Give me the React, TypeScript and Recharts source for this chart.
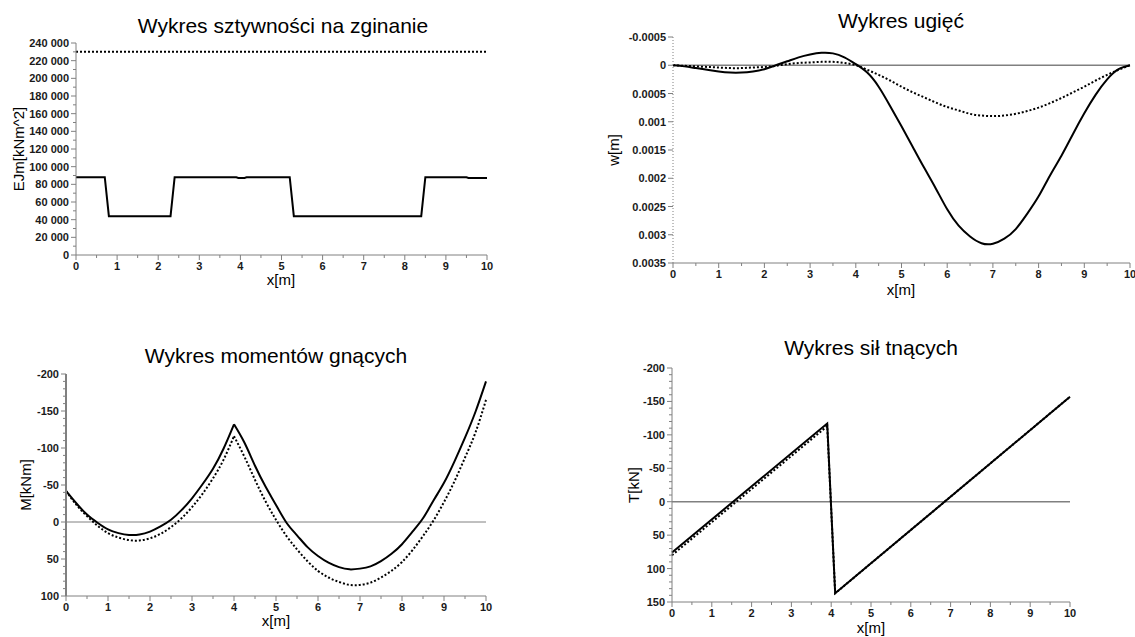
import React from "react";
import { LineChart, Line, XAxis, YAxis, ReferenceLine } from "recharts";

const FONT = '"Liberation Sans", Arial, Helvetica, sans-serif';
const AXIS = "#808080";

// shared x axis ticks (beam length, m)
const X_TICKS = [0, 0.5, 1, 1.5, 2, 2.5, 3, 3.5, 4, 4.5, 5, 5.5, 6, 6.5, 7, 7.5, 8, 8.5, 9, 9.5, 10];
const X_MAJOR = [0, 1, 2, 3, 4, 5, 6, 7, 8, 9, 10];

// 1. sztywność na zginanie
const EJ_X = [0, 0.7, 0.8, 2.3, 2.4, 3.9, 3.95, 4.1, 4.15, 5.2, 5.3, 8.4, 8.5, 9.5, 9.55, 10];
const EJ_VALUES = [88000, 88000, 44000, 44000, 88000, 88000, 87300, 87300, 88000, 88000, 44000, 44000, 88000, 88000, 87300, 87300];
const EJ_REF_X = [0, 10];
const EJ_REF_VALUES = [230000, 230000];
const EJ_TICKS = [0, 10000, 20000, 30000, 40000, 50000, 60000, 70000, 80000, 90000, 100000, 110000, 120000, 130000, 140000, 150000, 160000, 170000, 180000, 190000, 200000, 210000, 220000, 230000, 240000];
const EJ_MAJOR = [0, 20000, 40000, 60000, 80000, 100000, 120000, 140000, 160000, 180000, 200000, 220000, 240000];

// 2. ugięcia
const W_X = [0, 0.25, 0.5, 0.75, 1, 1.25, 1.5, 1.75, 2, 2.25, 2.5, 2.75, 3, 3.25, 3.5, 3.75, 4, 4.25, 4.5, 4.75, 5, 5.25, 5.5, 5.75, 6, 6.25, 6.5, 6.75, 7, 7.25, 7.5, 7.75, 8, 8.25, 8.5, 8.75, 9, 9.25, 9.5, 9.75, 10];
const W_SOLID = [0, 0.00002, 0.00005, 0.00008, 0.00011, 0.00013, 0.00013, 0.00011, 0.00007, 0, -0.00007, -0.00014, -0.00019, -0.00022, -0.00021, -0.00014, -0.00002, 0.00013, 0.00038, 0.00072, 0.00108, 0.00145, 0.00182, 0.00218, 0.00255, 0.00284, 0.00303, 0.00315, 0.00316, 0.00307, 0.0029, 0.00263, 0.00232, 0.00195, 0.0016, 0.00122, 0.00085, 0.00052, 0.00025, 0.00007, 0];
const W_DOTTED = [0, 0.00001, 0.00002, 0.00003, 0.00004, 0.00005, 0.00005, 0.00004, 0.00003, 0.00001, -0.00002, -0.00004, -0.00005, -0.00006, -0.00006, -0.00004, 0, 0.00008, 0.00017, 0.00027, 0.00038, 0.00048, 0.00057, 0.00066, 0.00074, 0.0008, 0.00086, 0.00089, 0.0009, 0.00089, 0.00086, 0.00081, 0.00075, 0.00067, 0.00058, 0.00048, 0.00038, 0.00027, 0.00017, 0.00008, 0];
const W_TICKS = [-0.0005, 0, 0.0005, 0.001, 0.0015, 0.002, 0.0025, 0.003, 0.0035];

// 3. momenty gnące (two spans, split at the support x = 4)
const M_X_LEFT = [0, 0.25, 0.5, 0.75, 1, 1.25, 1.5, 1.75, 2, 2.25, 2.5, 2.75, 3, 3.25, 3.5, 3.75, 4];
const M_SOLID_LEFT = [-42, -25, -10, 1, 10, 15, 17.5, 17, 13, 6, -3, -16, -32, -51, -72, -99, -132];
const M_DOTTED_LEFT = [-42, -23, -8, 5, 15, 21, 24.5, 25, 22, 16, 7, -5, -20, -38, -59, -84, -116];
const M_X_RIGHT = [4, 4.25, 4.5, 4.75, 5, 5.25, 5.5, 5.75, 6, 6.25, 6.5, 6.75, 7, 7.25, 7.5, 7.75, 8, 8.25, 8.5, 8.75, 9, 9.25, 9.5, 9.75, 10];
const M_SOLID_RIGHT = [-132, -107, -76, -48, -23, 1, 18, 34, 46, 55, 61, 64, 63, 60, 53, 43, 30, 13, -5, -29, -53, -82, -114, -149, -190];
const M_DOTTED_RIGHT = [-116, -88, -57, -28, -3, 19, 37, 53, 66, 75, 81, 85, 85, 82, 75, 66, 54, 38, 19, -2, -27, -55, -87, -121, -165];
const M_TICKS = [-200, -190, -180, -170, -160, -150, -140, -130, -120, -110, -100, -90, -80, -70, -60, -50, -40, -30, -20, -10, 0, 10, 20, 30, 40, 50, 60, 70, 80, 90, 100];
const M_MAJOR = [-200, -150, -100, -50, 0, 50, 100];

// 4. siły tnące
const T_X = [0, 3.9, 4.1, 10];
const T_SOLID = [76, -117, 137, -157];
const T_DOTTED = [80, -113, 137, -157];
const T_TICKS = [-200, -190, -180, -170, -160, -150, -140, -130, -120, -110, -100, -90, -80, -70, -60, -50, -40, -30, -20, -10, 0, 10, 20, 30, 40, 50, 60, 70, 80, 90, 100, 110, 120, 130, 140, 150];
const T_MAJOR = [-200, -150, -100, -50, 0, 50, 100, 150];

const pts = (xs: number[], ys: number[]) => xs.map((x, i) => ({ x, y: ys[i] }));

const isMajor = (v: number, majors: number[]) => majors.some((m) => Math.abs(m - v) < 1e-12);

const tickText = { fontFamily: FONT, fontSize: 11, fontWeight: 700, fill: "#1a1a1a" };

const XTick = (props: any) => {
  const { x, y, payload } = props;
  const major = isMajor(payload.value, X_MAJOR);
  return (
    <g>
      <line x1={x} x2={x} y1={y} y2={y + (major ? 5 : 3)} stroke={AXIS} />
      {major && (
        <text x={x} y={y + 15} textAnchor="middle" {...tickText}>
          {payload.value}
        </text>
      )}
    </g>
  );
};

const makeYTick = (majors: number[], fmt: (v: number) => string) => (props: any) => {
  const { x, y, payload } = props;
  const major = isMajor(payload.value, majors);
  return (
    <g>
      <line x1={x} x2={x - (major ? 5 : 3)} y1={y} y2={y} stroke={AXIS} />
      {major && (
        <text x={x - 7} y={y + 4} textAnchor="end" {...tickText}>
          {fmt(payload.value)}
        </text>
      )}
    </g>
  );
};

const fmtThousands = (v: number) => (v === 0 ? "0" : `${Math.round(v / 1000)} 000`);
const fmtPlain = (v: number) => String(v);

const xAxisProps = {
  dataKey: "x",
  type: "number" as const,
  domain: [0, 10],
  ticks: X_TICKS,
  interval: 0 as const,
  height: 30,
  tickSize: 0,
  tickMargin: 0,
  tickLine: false,
  axisLine: { stroke: AXIS },
  tick: XTick,
};

const solid = { stroke: "#000", strokeWidth: 2, dot: false, type: "linear" as const, isAnimationActive: false, dataKey: "y" };
const dotted = { ...solid, strokeDasharray: "2 2" };
const smooth = { ...solid, type: "natural" as const };
const smoothDotted = { ...dotted, type: "natural" as const };

const Label = ({ x, y, text, size, rotate }: { x: number; y: number; text: string; size: number; rotate?: boolean }) => (
  <text
    x={x}
    y={y}
    textAnchor="middle"
    fontFamily={FONT}
    fontSize={size}
    fill="#000"
    transform={rotate ? `rotate(-90 ${x} ${y})` : undefined}
  >
    {text}
  </text>
);

export default function App() {
  return (
    <div style={{ position: "fixed", left: 0, top: 0, width: 1135, height: 637, background: "#fff" }}>
      <div style={{ position: "absolute", left: 0, top: 0 }}>
        <LineChart width={570} height={300} margin={{ top: 43, right: 83, bottom: 15, left: 6 }}>
          <XAxis {...xAxisProps} />
          <YAxis
            type="number"
            domain={[0, 240000]}
            ticks={EJ_TICKS}
            interval={0}
            width={70}
            tickSize={0}
            tickMargin={0}
            tickLine={false}
            axisLine={{ stroke: AXIS }}
            tick={makeYTick(EJ_MAJOR, fmtThousands)}
          />
          <Line {...dotted} data={pts(EJ_REF_X, EJ_REF_VALUES)} />
          <Line {...solid} data={pts(EJ_X, EJ_VALUES)} />
        </LineChart>
      </div>

      <div style={{ position: "absolute", left: 570, top: 0 }}>
        <LineChart width={565} height={300} margin={{ top: 37, right: 5, bottom: 7, left: 0 }}>
          <XAxis {...xAxisProps} />
          <YAxis
            type="number"
            domain={[-0.0005, 0.0035]}
            reversed
            ticks={W_TICKS}
            interval={0}
            width={103}
            tickSize={0}
            tickMargin={0}
            tickLine={false}
            axisLine={{ stroke: AXIS, strokeDasharray: "1 2" }}
            tick={makeYTick(W_TICKS, fmtPlain)}
          />
          <ReferenceLine y={0} stroke={AXIS} strokeWidth={1.5} />
          <Line {...smoothDotted} data={pts(W_X, W_DOTTED)} />
          <Line {...smooth} data={pts(W_X, W_SOLID)} />
        </LineChart>
      </div>

      <div style={{ position: "absolute", left: 0, top: 300 }}>
        <LineChart width={570} height={337} margin={{ top: 74, right: 84, bottom: 11, left: 6 }}>
          <XAxis {...xAxisProps} />
          <YAxis
            type="number"
            domain={[-200, 100]}
            reversed
            ticks={M_TICKS}
            interval={0}
            width={60}
            tickSize={0}
            tickMargin={0}
            tickLine={false}
            axisLine={{ stroke: AXIS, strokeWidth: 2 }}
            tick={makeYTick(M_MAJOR, fmtPlain)}
          />
          <ReferenceLine y={0} stroke={AXIS} strokeWidth={1} />
          <Line {...smoothDotted} data={pts(M_X_LEFT, M_DOTTED_LEFT)} />
          <Line {...smoothDotted} data={pts(M_X_RIGHT, M_DOTTED_RIGHT)} />
          <Line {...smooth} data={pts(M_X_LEFT, M_SOLID_LEFT)} />
          <Line {...smooth} data={pts(M_X_RIGHT, M_SOLID_RIGHT)} />
        </LineChart>
      </div>

      <div style={{ position: "absolute", left: 570, top: 300 }}>
        <LineChart width={565} height={337} margin={{ top: 68, right: 65, bottom: 5, left: 0 }}>
          <XAxis {...xAxisProps} />
          <YAxis
            type="number"
            domain={[-200, 150]}
            reversed
            ticks={T_TICKS}
            interval={0}
            width={102}
            tickSize={0}
            tickMargin={0}
            tickLine={false}
            axisLine={{ stroke: AXIS }}
            tick={makeYTick(T_MAJOR, fmtPlain)}
          />
          <ReferenceLine y={0} stroke={AXIS} strokeWidth={1.5} />
          <Line {...dotted} data={pts(T_X, T_DOTTED)} />
          <Line {...solid} data={pts(T_X, T_SOLID)} />
        </LineChart>
      </div>

      <svg width={1135} height={637} style={{ position: "absolute", left: 0, top: 0, pointerEvents: "none" }}>
        <Label x={283} y={33} text="Wykres sztywności na zginanie" size={21} />
        <Label x={281} y={285} text="x[m]" size={15} />
        <Label x={24} y={149} text="EJm[kNm^2]" size={15} rotate />

        <Label x={901} y={28} text="Wykres ugięć" size={21} />
        <Label x={901} y={295} text="x[m]" size={15} />
        <Label x={619} y={150} text="w[m]" size={15} rotate />

        <Label x={276} y={363} text="Wykres momentów gnących" size={21} />
        <Label x={276} y={626} text="x[m]" size={15} />
        <Label x={31} y={485} text="M[kNm]" size={15} rotate />

        <Label x={871} y={355} text="Wykres sił tnących" size={21} />
        <Label x={871} y={633} text="x[m]" size={15} />
        <Label x={639} y={485} text="T[kN]" size={15} rotate />
      </svg>
    </div>
  );
}
